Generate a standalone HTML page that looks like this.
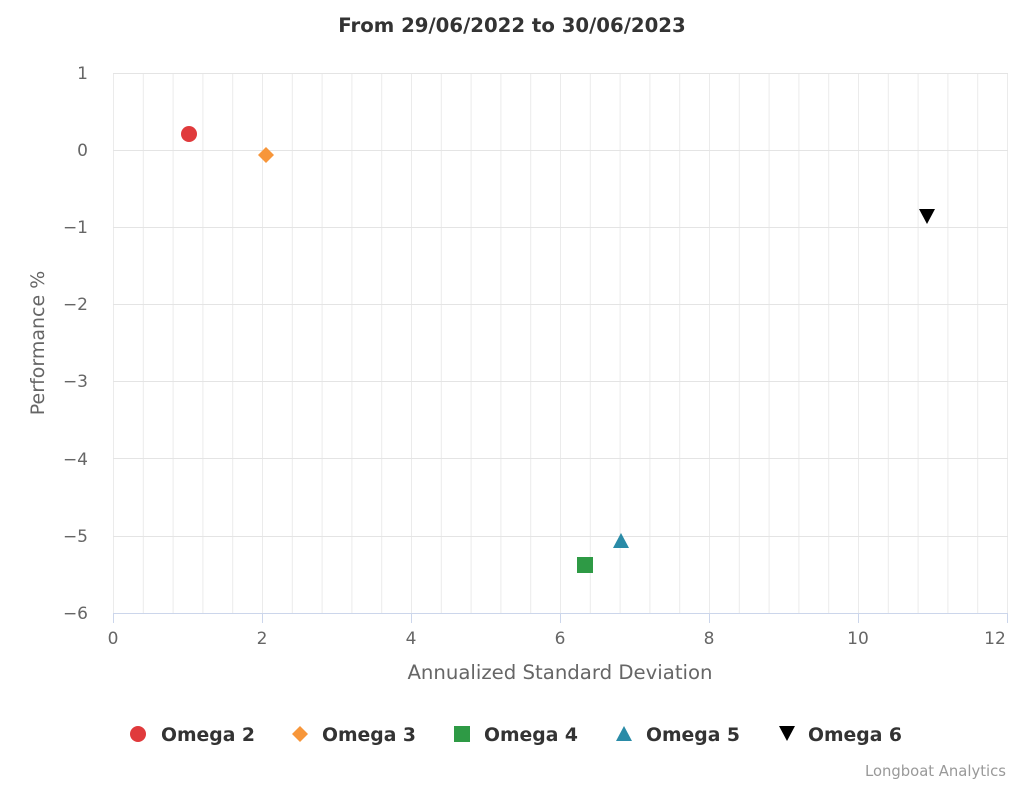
<!DOCTYPE html>
<html><head><meta charset="utf-8"><style>
body{margin:0;background:#fff;}
svg{display:block;font-family:"DejaVu Sans","Liberation Sans",sans-serif;}
</style></head><body>
<svg width="1024" height="785" viewBox="0 0 1024 785" xmlns="http://www.w3.org/2000/svg">
<defs>
<pattern id="vg" x="113" y="0" width="29.8" height="10" patternUnits="userSpaceOnUse">
<line x1="0.5" y1="0" x2="0.5" y2="10" stroke="#ebebeb" stroke-width="1"/>
</pattern>
</defs>
<rect width="1024" height="785" fill="#fff"/>
<text x="512" y="32" text-anchor="middle" font-size="19.7" font-weight="bold" fill="#333">From 29/06/2022 to 30/06/2023</text>
<rect x="113" y="73" width="895" height="540" fill="url(#vg)"/>
<line x1="1007.5" y1="73" x2="1007.5" y2="613" stroke="#ebebeb"/>
<g stroke="#e4e4e4" stroke-width="1">
<line x1="113" x2="1008" y1="73.5" y2="73.5"/>
<line x1="113" x2="1008" y1="150.5" y2="150.5"/>
<line x1="113" x2="1008" y1="227.5" y2="227.5"/>
<line x1="113" x2="1008" y1="304.5" y2="304.5"/>
<line x1="113" x2="1008" y1="381.5" y2="381.5"/>
<line x1="113" x2="1008" y1="458.5" y2="458.5"/>
<line x1="113" x2="1008" y1="536.5" y2="536.5"/>
</g>
<line x1="113" x2="1008" y1="613.5" y2="613.5" stroke="#ccd6eb"/>
<g stroke="#ccd6eb">
<line x1="113.5" x2="113.5" y1="613" y2="623"/>
<line x1="262.5" x2="262.5" y1="613" y2="623"/>
<line x1="411.5" x2="411.5" y1="613" y2="623"/>
<line x1="560.5" x2="560.5" y1="613" y2="623"/>
<line x1="709.5" x2="709.5" y1="613" y2="623"/>
<line x1="858.5" x2="858.5" y1="613" y2="623"/>
<line x1="1007.5" x2="1007.5" y1="613" y2="623"/>
</g>
<g font-size="17" fill="#666" text-anchor="middle">
<text x="113" y="644">0</text><text x="262" y="644">2</text><text x="411" y="644">4</text>
<text x="560" y="644">6</text><text x="709" y="644">8</text><text x="858" y="644">10</text><text x="995" y="644">12</text>
</g>
<g font-size="17" fill="#666" text-anchor="end">
<text x="88" y="79">1</text><text x="88" y="156">0</text><text x="88" y="233">−1</text>
<text x="88" y="310">−2</text><text x="88" y="387">−3</text><text x="88" y="465">−4</text>
<text x="88" y="542">−5</text><text x="88" y="619">−6</text>
</g>
<text x="560" y="679" text-anchor="middle" font-size="19.7" fill="#666">Annualized Standard Deviation</text>
<text transform="translate(44,343) rotate(-90)" text-anchor="middle" font-size="19" fill="#666">Performance %</text>
<circle cx="189" cy="134" r="8" fill="#e03a3c"/>
<polygon points="266,147 274,155 266,163 258,155" fill="#f7963a"/>
<rect x="577" y="557" width="16" height="16" fill="#2e9a45"/>
<polygon points="621,533 629,548 613,548" fill="#2a8ba7"/>
<polygon points="919,209 935,209 927,224" fill="#000"/>
<g font-size="18.8" font-weight="bold" fill="#333">
<circle cx="138" cy="734" r="8" fill="#e03a3c"/><text x="161" y="741">Omega 2</text>
<polygon points="300,726 308,734 300,742 292,734" fill="#f7963a"/><text x="322" y="741">Omega 3</text>
<rect x="454" y="726" width="16" height="16" fill="#2e9a45"/><text x="484" y="741">Omega 4</text>
<polygon points="624,726 632,741 616,741" fill="#2a8ba7"/><text x="646" y="741">Omega 5</text>
<polygon points="779,726 795,726 787,741" fill="#000"/><text x="808" y="741">Omega 6</text>
</g>
<text x="1006" y="776" text-anchor="end" font-size="14.8" fill="#999">Longboat Analytics</text>
</svg>
</body></html>
